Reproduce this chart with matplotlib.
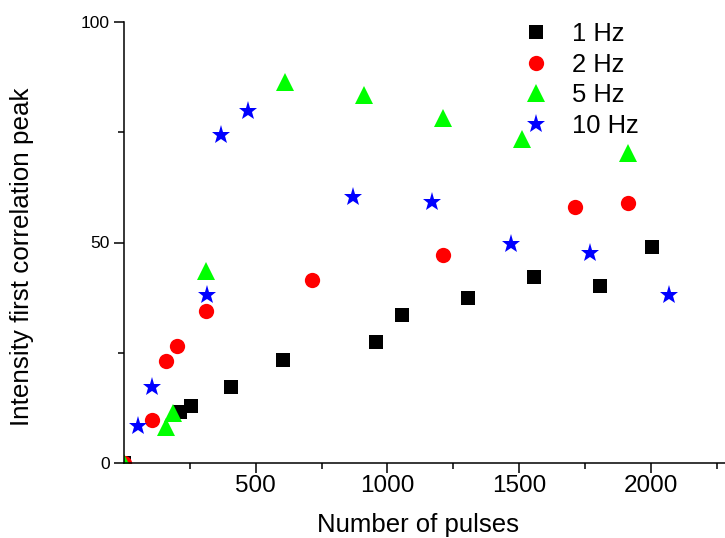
import matplotlib
matplotlib.use("Agg")
import matplotlib.pyplot as plt

plt.rcParams['font.family'] = ['Liberation Sans', 'DejaVu Sans']

# Data
x_1hz = [0, 213, 255, 405, 604, 956, 1055, 1305, 1555, 1806, 2005]
y_1hz = [0, 11.6, 12.9, 17.2, 23.4, 27.4, 33.5, 37.4, 42.2, 40.2, 48.9]

x_2hz = [0, 105, 160, 201, 312, 713, 1211, 1712, 1912]
y_2hz = [0, 9.75, 23.1, 26.6, 34.5, 41.5, 47.2, 58.0, 59.0]

x_5hz = [0, 160, 185, 312, 611, 911, 1212, 1512, 1912]
y_5hz = [0, 8.2, 11.4, 43.6, 86.5, 83.5, 78.2, 73.4, 70.4]

x_10hz = [52, 105, 314, 370, 472, 871, 1170, 1469, 1769, 2070]
y_10hz = [8.4, 17.2, 38.0, 74.4, 79.9, 60.4, 59.1, 49.6, 47.6, 38.1]

labels = ['1 Hz', '2 Hz', '5 Hz', '10 Hz']
x_major = [500, 1000, 1500, 2000]
x_minor = [250, 750, 1250, 1750, 2250]
y_major = [0, 50, 100]
y_minor = [25, 75]

fig = plt.figure(figsize=(7.25, 5.38), dpi=100)
ax = fig.add_axes([123.9 / 725, 1 - 463 / 538, 1 - 123.9 / 725, (463 - 22) / 538])

ax.plot(x_1hz, y_1hz, 's', color='black', ms=9.4, mew=0, label=labels[0])
ax.plot(x_2hz, y_2hz, 'o', color='#ff0000', ms=11, mew=0, label=labels[1])
ax.plot(x_5hz, y_5hz, '^', color='#00ff00', ms=13, mew=0, label=labels[2])
ax.plot(x_10hz, y_10hz, '*', color='#0000ff', ms=14, mew=0, label=labels[3])

ax.set_xlim(0, 2281)
ax.set_ylim(0, 100)

ax.spines['top'].set_visible(False)
ax.spines['right'].set_visible(False)
for s in ['left', 'bottom']:
    ax.spines[s].set_linewidth(1.1)

ax.set_xticks(x_major)
ax.set_xticks(x_minor, minor=True)
ax.set_yticks(y_major)
ax.set_yticks(y_minor, minor=True)

ax.tick_params(axis='both', which='major', direction='out', length=7, width=1.1)
ax.tick_params(axis='both', which='minor', direction='out', length=4, width=1.1)
ax.tick_params(axis='x', which='major', labelsize=17.5, pad=2)
ax.tick_params(axis='y', which='major', labelsize=12.5, pad=3)

ax.set_xlabel('Number of pulses', fontsize=18.5, va='baseline')
ax.xaxis.set_label_coords((417.5 - 123.9) / 601.1, (463 - 532) / 441)
ax.set_ylabel('Intensity first correlation peak', fontsize=18.7, va='center')
ax.yaxis.set_label_coords((22 - 123.9) / 601.1, (463 - 256.5) / 441)

leg = ax.legend(loc='upper left', bbox_to_anchor=(521 / 725, 1 - 22 / 538),
                bbox_transform=fig.transFigure, frameon=False,
                fontsize=18.4, handlelength=1.2, handletextpad=0.8,
                labelspacing=0.26, borderpad=0, borderaxespad=0)

fig.savefig('out.png', dpi=100)
